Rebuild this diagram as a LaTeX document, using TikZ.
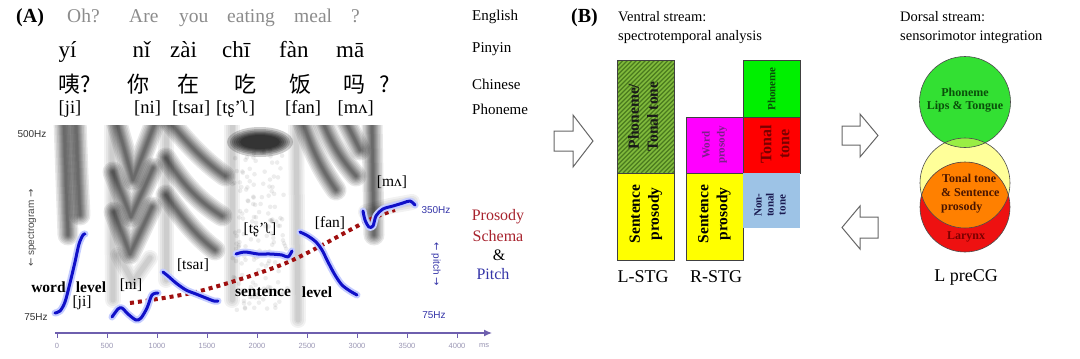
\documentclass[tikz,border=0pt]{standalone}
\usepackage{fontspec}
\setmainfont{Liberation Serif}
\setsansfont{Liberation Sans}
\newfontfamily\cjkfont{Noto Sans CJK SC}
\newfontfamily\arrowfont{DejaVu Sans}
\usetikzlibrary{arrows.meta}
\definecolor{engray}{HTML}{8C8C8C}
\definecolor{axisc}{HTML}{6E5FAE}
\definecolor{tickc}{HTML}{9A96B4}
\definecolor{pitchblue}{HTML}{1010C8}
\definecolor{halo}{HTML}{C4CCFF}
\definecolor{prored}{HTML}{A8232E}
\definecolor{labblue}{HTML}{3434A8}
\definecolor{dotred}{HTML}{A01010}
\definecolor{hatchbase}{HTML}{80BA3C}
\definecolor{hatchline}{HTML}{4A7A1E}
\definecolor{bxyellow}{HTML}{FFFF00}
\definecolor{bxmagenta}{HTML}{FF00FF}
\definecolor{bxgreen}{HTML}{00F000}
\definecolor{bxred}{HTML}{FF0000}
\definecolor{bxblue}{HTML}{9DC3E6}
\definecolor{cgreen}{HTML}{33E033}
\definecolor{cyellow}{HTML}{FFFF99}
\definecolor{cred}{HTML}{EE1111}
\definecolor{corange}{HTML}{FF8000}
\definecolor{cyg}{HTML}{99EE44}
\definecolor{txgreen}{HTML}{0A4F0A}
\definecolor{txbrown}{HTML}{4A1500}
\definecolor{txdred}{HTML}{7A0000}
\definecolor{txpurple}{HTML}{7B1F8A}
\definecolor{txnavy}{HTML}{1A1A50}
\tikzset{
  eng/.style={anchor=base west, inner sep=0, text=engray, font=\fontsize{19.5}{22}\selectfont},
  pin/.style={anchor=base west, inner sep=0, font=\fontsize{23}{26}\selectfont},
  chn/.style={anchor=base west, inner sep=0, font=\cjkfont\fontsize{22}{26}\selectfont},
  pho/.style={anchor=base west, inner sep=0, font=\fontsize{18.5}{22}\selectfont},
  rowlab/.style={anchor=base west, inner sep=0, font=\fontsize{15}{18}\selectfont},
  panel/.style={anchor=base west, inner sep=0, font=\bfseries\fontsize{20}{24}\selectfont},
  hz/.style={inner sep=0, font=\sffamily\fontsize{10}{11}\selectfont},
  ticklab/.style={inner sep=0, text=tickc, font=\sffamily\fontsize{7.5}{9}\selectfont},
  seg/.style={inner sep=0, font=\fontsize{15.5}{18}\selectfont},
  lev/.style={inner sep=0, font=\bfseries\fontsize{15.5}{18}\selectfont},
  prs/.style={inner sep=0, font=\fontsize{16}{19}\selectfont},
  pitchhalo/.style={draw=halo, line width=7, line cap=round, line join=round},
  pitchline/.style={draw=pitchblue, line width=3, line cap=round, line join=round},
  head/.style={anchor=base west, inner sep=0, font=\fontsize{14.5}{17}\selectfont},
  boxline/.style={draw=black!75, line width=0.7},
  boxtxt/.style={inner sep=0, rotate=90, align=center, font=\bfseries\fontsize{15.5}{19}\selectfont},
  hollow/.style={draw=black!60, fill=white, line width=1, line join=miter},
  circline/.style={draw=black!70, line width=0.6},
  circtxt/.style={inner sep=0, font=\bfseries\fontsize{12}{15}\selectfont},
  stg/.style={inner sep=0, font=\fontsize{18}{21}\selectfont}
}
\newcommand\specband[1]{\foreach \w in {21,18,15,12,10,8,6,4,2.5}{\draw[draw=black, draw opacity=0.09, line width=\w, line cap=round, line join=round] #1;}}
\newcommand\specfaint[1]{\foreach \w in {16,12,8,5}{\draw[draw=black, draw opacity=0.05, line width=\w, line cap=round, line join=round] #1;}}
\begin{document}
\begin{tikzpicture}[x=1pt,y=-1pt]
\useasboundingbox (0,0) rectangle (1080,359);
\fill[white] (0,0) rectangle (1080,359);

% ---------- Panel A header rows ----------
\node[panel] (pA) at (16,22.5) {(A)};
\node[eng] (e1) at (67,22.5) {Oh?};
\node[eng] (e2) at (129,22.5) {Are};
\node[eng] (e3) at (179,22.5) {you};
\node[eng] (e4) at (227,22.5) {eating};
\node[eng] (e5) at (294,22.5) {meal};
\node[eng] (e6) at (351,22.5) {?};
\node[pin] (p1) at (58.5,57) {yí};
\node[pin] (p2) at (132.5,57) {nǐ};
\node[pin] (p3) at (170,57) {zài};
\node[pin] (p4) at (222,57) {chī};
\node[pin] (p5) at (279,57) {fàn};
\node[pin] (p6) at (336,57) {mā};
\node[chn] (c1) at (58.5,92) {咦?};
\node[chn] (c2) at (127,92) {你};
\node[chn] (c3) at (177,92) {在};
\node[chn] (c4) at (234,92) {吃};
\node[chn] (c5) at (289,92) {饭};
\node[chn] (c6) at (343,92) {吗};
\node[chn] (c7) at (379,92) {?};
\node[pho] (f1) at (58.5,113.5) {[ji]};
\node[pho] (f2) at (134,113.5) {[ni]};
\node[pho] (f3) at (172,113.5) {[tsaɪ]};
\node[pho] (f4) at (216,113.5) {[tʂ’ʅ]};
\node[pho] (f5) at (285,113.5) {[fan]};
\node[pho] (f6) at (337.5,113.5) {[mʌ]};
\node[rowlab] (lEng) at (472,20.5) {English};
\node[rowlab] (lPin) at (472,52) {Pinyin};
\node[rowlab] (lChn) at (472,89) {Chinese};
\node[rowlab] (lPho) at (472,114.5) {Phoneme};

% ---------- spectrogram ----------
\begin{scope}
\clip (50,125) rectangle (420,328);
% ji
\specband{(64,120) -- (66,180) -- (68,235)}
\specband{(76,120) -- (78,175) -- (80,215)}
% ni
\specfaint{(112,120) -- (113,300)}
\specband{(116,120) -- (133,180) -- (156,120)}
\specband{(113,172) -- (131,217) -- (153,168)}
\specband{(114,212) -- (130,254) -- (152,207)}
\specfaint{(118,255) -- (133,282) -- (150,258)}
% tsai
\specfaint{(166,120) -- (166,280)}
\specband{(168,120) .. controls (185,140) and (202,160) .. (225,176)}
\specband{(166,158) .. controls (180,180) and (196,200) .. (222,216)}
\specband{(166,195) .. controls (180,215) and (195,235) .. (215,250)}
% ts' (fricative)
\pgfmathsetseed{5}
\foreach \i in {1,...,160}{%
  \pgfmathsetmacro{\px}{232+56*rnd}\pgfmathsetmacro{\py}{150+160*rnd}
  \fill[black, fill opacity=0.07] (\px,\py) circle (2.3);}
\specfaint{(232,120) -- (232,300)}
\foreach \rx/\ry in {33/15,30/13,28/11.5,26/10,24/9,22/8,20/7}{\fill[black, fill opacity=0.2] (260,142) ellipse ({\rx} and {\ry});}
% fan
\specfaint{(296,120) -- (298,320)}
\specband{(302,120) .. controls (312,150) and (322,170) .. (336,190)}
\specband{(322,120) .. controls (332,145) and (342,160) .. (356,176)}
\specband{(345,120) -- (360,150)}
% ma
\specband{(372,120) -- (374,235)}
\specfaint{(366,212) -- (390,206) -- (412,202)}
\end{scope}

% red dotted prosody schema
\draw[dotred, line width=4, dash pattern=on 4 off 4] plot[smooth] coordinates {(130,303) (200,291) (286,263) (367,221) (395,210)};

% pitch contours
\foreach \c in {0,1}{%
  \ifnum\c=0 \tikzset{pstyle/.style={pitchhalo}}\else\tikzset{pstyle/.style={pitchline}}\fi
  \draw[pstyle] plot[smooth] coordinates {(55,313) (60,311) (65,302) (70,283) (75,262) (79,244) (83,235) (85,234)};
  \draw[pstyle] plot[smooth] coordinates {(112,317) (118,309) (122,308) (128,314) (136,320) (141,318) (147,308) (152,295) (158,293)};
  \draw[pstyle] plot[smooth] coordinates {(163,272) (168,276) (176,283) (186,290) (196,294) (206,298) (214,301) (218,301)};
  \draw[pstyle] plot[smooth] coordinates {(236,254) (245,252) (258,254) (270,254) (282,255) (288,257) (292,251)};
  \draw[pstyle] plot[smooth] coordinates {(300,232) (308,236) (316,242) (322,250) (328,262) (335,275) (342,285) (350,291) (357,295)};
  \draw[pstyle] plot[smooth] coordinates {(363,211) (365,220) (369,227) (373,226) (376,216) (383,209) (393,206) (403,203) (410,201) (415,205)};
}

% spectrogram labels
\node[lev] (wWord) at (48.5,287) {word};
\node[lev] (wLevel) at (91,287) {level};
\node[seg] (sJi) at (82,303) {[ji]};
\node[seg] (sNi) at (131,285) {[ni]};
\node[seg] (sTs) at (193,265) {[tsaɪ]};
\node[seg] (sCh) at (260,230) {[tʂ’ʅ]};
\node[seg] (sFa) at (330,223) {[fan]};
\node[seg] (sMa) at (392,182) {[mʌ]};
\node[lev] (sSent) at (263,292) {sentence};
\node[lev] (sLevel) at (317,292) {level};

\node[hz, text=black!80] (hz500) at (32,134) {500Hz};
\node[hz, text=black!80] (hz75) at (36,317) {75Hz};
\node[hz, text=labblue] (hz350b) at (436,210) {350Hz};
\node[hz, text=labblue] (hz75b) at (434,315) {75Hz};
\node[hz, text=black!70, rotate=90, font=\sffamily\fontsize{10}{11}\selectfont] (specLab) at (32,228) {{\arrowfont ←} spectrogram {\arrowfont →}};
\node[hz, text=labblue, rotate=-90, font=\sffamily\fontsize{10}{11}\selectfont] (pitchLab) at (436,264) {{\arrowfont ←} pitch {\arrowfont →}};

\node[prs, text=prored] (tPros) at (498,217) {Prosody};
\node[prs, text=prored] (tSchema) at (498,236) {Schema};
\node[prs] (tAmp) at (499,255) {\&};
\node[prs, text=labblue] (tPitch) at (493,274) {Pitch};

% time axis
\coordinate (axS) at (55,333);
\coordinate (axE) at (492,333);
\draw[axisc, line width=1.2, -{Latex[length=8,width=7]}] (axS) -- (axE);
\foreach \k/\lab in {0/0,1/500,2/1000,3/1500,4/2000,5/2500,6/3000,7/3500,8/4000}{%
  \draw[axisc, line width=0.9] (57+50*\k,333) -- ++(0,5);
  \node[ticklab] (tk\k) at (57+50*\k,346) {\lab};}
\node[ticklab] (tkms) at (484,346) {ms};

% ---------- Panel B ----------
\node[panel] (pB) at (571,22.5) {(B)};
\node[head] (hV1) at (618,21.5) {Ventral stream:};
\node[head] (hV2) at (618,40) {spectrotemporal analysis};
\node[head] (hD1) at (900,21.5) {Dorsal stream:};
\node[head] (hD2) at (900,40) {sensorimotor integration};

% hollow arrows
\draw[hollow] (554,131) -- (573,131) -- (573,115) -- (593,141) -- (573,167) -- (573,151) -- (554,151) -- cycle;
\draw[hollow] (842,126) -- (860,126) -- (860,114) -- (878,135.5) -- (860,157) -- (860,145) -- (842,145) -- cycle;
\draw[hollow] (878,217) -- (860,217) -- (860,206) -- (842,227.5) -- (860,249) -- (860,238) -- (878,238) -- cycle;

% L-STG hatched box
\fill[hatchbase] (617,60) rectangle (674,173);
\begin{scope}
  \clip (617,60) rectangle (674,173);
  \foreach \k in {0,4.5,...,184}{\draw[hatchline, line width=1.3] (497+\k,173) -- ++(120,-120);}
\end{scope}
\draw[boxline] (617,60) rectangle (674,173);
\fill[bxyellow] (617,173) rectangle (674,260);
\draw[boxline] (617,173) rectangle (674,260);
% R-STG
\fill[bxmagenta] (686,117) rectangle (743,173);
\draw[boxline] (686,117) rectangle (743,173);
\fill[bxyellow] (686,173) rectangle (743,260);
\draw[boxline] (686,173) rectangle (743,260);
\fill[bxgreen] (743,60) rectangle (800,117);
\draw[boxline] (743,60) rectangle (800,117);
\fill[bxred] (743,117) rectangle (800,173);
\draw[boxline] (743,117) rectangle (800,173);
\fill[bxblue] (743,173) rectangle (800,228);

\node[boxtxt, text=black!90] (bPT) at (643,116.5) {Phoneme/\\Tonal tone};
\node[boxtxt] (bLS) at (646,214) {Sentence\\prosody};
\node[boxtxt, text=txpurple, font=\bfseries\fontsize{11}{15}\selectfont] (bWP) at (714.5,145) {Word\\prosody};
\node[boxtxt] (bRS) at (714.5,214) {Sentence\\prosody};
\node[boxtxt, text=txgreen, font=\bfseries\fontsize{11}{13}\selectfont] (bPh) at (771.5,89) {Phoneme};
\node[boxtxt, text=txdred, font=\bfseries\fontsize{16}{18}\selectfont] (bTT) at (775,144) {Tonal\\tone};
\node[boxtxt, text=txnavy, font=\bfseries\fontsize{11}{12}\selectfont] (bNT) at (770,205) {Non-\\tonal\\tone};

\node[stg] (lLSTG) at (643,277) {L-STG};
\node[stg] (lRSTG) at (716,277) {R-STG};
\node[stg] (lPre) at (966,277) {L preCG};

% L preCG circles
\fill[cyellow] (965,183) circle (45);
\fill[cred] (965,207) circle (45);
\begin{scope}
  \clip (965,183) circle (45);
  \fill[corange] (965,207) circle (45);
\end{scope}
\fill[cgreen] (965,102) circle (45.5);
\begin{scope}
  \clip (965,102) circle (45.5);
  \fill[cyg] (965,183) circle (45);
\end{scope}
\draw[circline] (965,183) circle (45);
\draw[circline] (965,207) circle (45);
\draw[circline] (965,102) circle (45.5);

\node[circtxt, text=txgreen] (cPh) at (965,92) {Phoneme};
\node[circtxt, text=txgreen] (cLT) at (965,107) {Lips \& Tongue};
\node[circtxt, text=txbrown, anchor=west] (cT1) at (942,178) {Tonal tone};
\node[circtxt, text=txbrown, anchor=west] (cT2) at (941,193) {\& Sentence};
\node[circtxt, text=txbrown, anchor=west] (cT3) at (941,208) {prosody};
\node[circtxt, text=txdred] (cLa) at (966,237) {Larynx};
\end{tikzpicture}
\end{document}
